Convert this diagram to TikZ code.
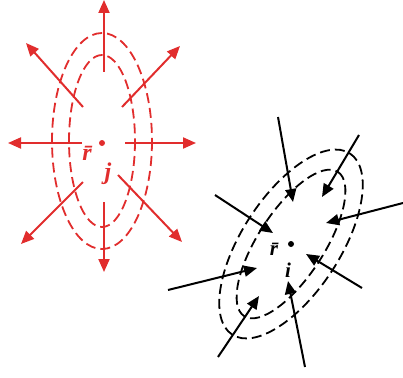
\documentclass[tikz,border=0pt]{standalone}
\usepackage{fontspec}
\setmainfont{Liberation Serif}
\usetikzlibrary{arrows.meta}
\definecolor{fieldred}{RGB}{225,45,45}
\begin{document}
\begin{tikzpicture}[x=1pt,y=-1pt,
  fld/.style={line width=2pt,-{Triangle[length=13pt,width=11pt]}},
  eq/.style={line width=1.8pt,dash pattern=on 10pt off 5pt},
  lbl/.style={inner sep=0pt,font=\fontsize{24}{24}\selectfont\bfseries\itshape}]
\useasboundingbox (0,0) rectangle (403,377);
% red source
\begin{scope}[fieldred]
\node[fill=fieldred,circle,inner sep=0pt,minimum size=6pt] (cj) at (102,143) {};
\draw[eq] (cj.center) ++(0,-2) ellipse [x radius=33,y radius=86];
\draw[eq] (cj.center) ++(0,-2) ellipse [x radius=50,y radius=108];
\coordinate (ju0) at (104,72);   \coordinate (ju1) at (104,0);
\coordinate (jd0) at (104,202);  \coordinate (jd1) at (104,272);
\coordinate (jl0) at (82,143);   \coordinate (jl1) at (8,143);
\coordinate (jr0) at (125,143);  \coordinate (jr1) at (196,143);
\coordinate (jul0) at (83,107);  \coordinate (jul1) at (26,43);
\coordinate (jur0) at (122,107); \coordinate (jur1) at (180,46);
\coordinate (jdl0) at (83,182);  \coordinate (jdl1) at (21,244);
\coordinate (jdr0) at (118,175); \coordinate (jdr1) at (182,242);
\foreach \a in {ju,jd,jl,jr,jul,jur,jdl,jdr} \draw[fld] (\a0) -- (\a1);
\node[lbl,text=fieldred] (rj) at (87,153) {\=r};
\node[lbl,text=fieldred] (jsub) at (108,174) {j};
\end{scope}
% black sink
\node[fill=black,circle,inner sep=0pt,minimum size=6pt] (ci) at (291,244) {};
\draw[eq,rotate around={57:(ci.center)}] (ci.center) ellipse [x radius=86,y radius=33];
\draw[eq,rotate around={57:(ci.center)}] (ci.center) ellipse [x radius=108,y radius=49];
\coordinate (i10) at (278,117); \coordinate (i11) at (293,202);
\coordinate (i20) at (359,135); \coordinate (i21) at (322,197);
\coordinate (i30) at (403,203); \coordinate (i31) at (326,223);
\coordinate (i40) at (362,288); \coordinate (i41) at (306,254);
\coordinate (i50) at (305,367); \coordinate (i51) at (288,281);
\coordinate (i60) at (218,357); \coordinate (i61) at (259,296);
\coordinate (i70) at (168,290); \coordinate (i71) at (257,268);
\coordinate (i80) at (215,195); \coordinate (i81) at (273,233);
\foreach \a in {1,...,8} \draw[fld] (i\a0) -- (i\a1);
\node[lbl,font=\fontsize{21}{21}\selectfont\bfseries\itshape] (ri) at (274,249) {\=r};
\node[lbl,font=\fontsize{21}{21}\selectfont\bfseries\itshape] (isub) at (288,270) {i};
\end{tikzpicture}
\end{document}
